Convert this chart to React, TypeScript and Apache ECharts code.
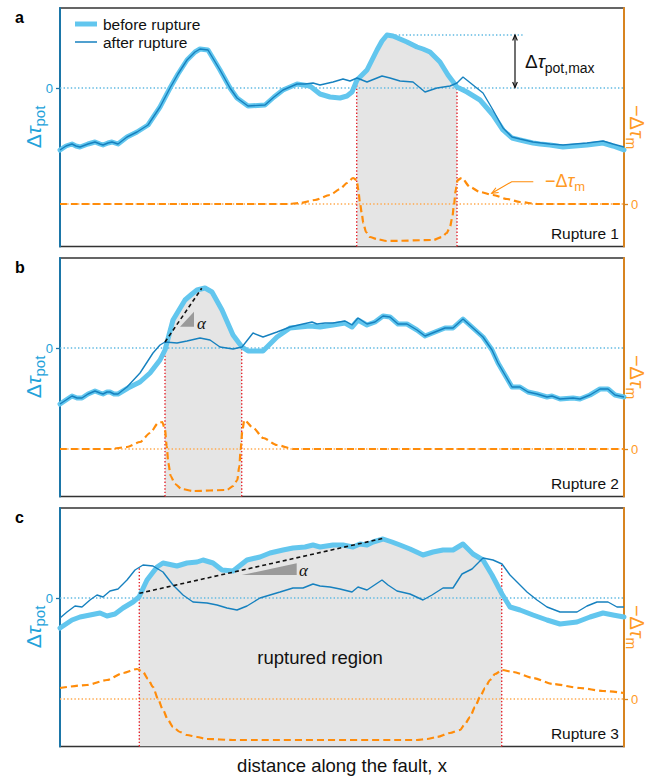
import React, { useEffect, useRef } from 'react';
import * as echarts from 'echarts';

type P = [number, number];

// x: distance along the fault (arbitrary units); y: stress (arbitrary units, 0 = reference)
const beforeA: P[] = [[0,-62],[6,-58],[12,-56],[16,-58],[20,-59],[28,-56],[35,-54],[40,-56],[43,-57],[48,-55],[52,-54],[58,-56],[67,-49],[77,-44],[88,-37],[100,-19],[110,0],[118,14],[127,28],[135,36],[140,39],[148,38],[160,18],[170,0],[177,-10],[188,-18],[205,-17],[214,-9],[223,-2],[237,4],[250,2],[260,-6],[270,-9],[280,-10],[287,-8],[292,-4],[297,8],[307,18],[317,38],[322,47],[327,53],[333,52],[340,49],[347,46],[357,41],[363,39],[370,36],[380,26],[388,13],[397,1],[407,-4],[420,-12],[433,-27],[443,-42],[452,-50],[460,-52],[473,-55],[480,-56],[490,-57],[503,-59],[515,-58],[527,-57],[543,-55],[553,-58],[564,-62]];
const afterA: P[] = [[0,-62],[6,-58],[12,-56],[16,-58],[20,-59],[28,-56],[35,-54],[40,-56],[43,-57],[48,-55],[52,-54],[58,-56],[67,-49],[77,-44],[88,-37],[100,-19],[110,0],[118,14],[127,28],[135,36],[140,39],[148,38],[160,18],[170,0],[177,-10],[188,-18],[205,-17],[214,-9],[223,-2],[237,4],[245,4],[253,5],[260,3],[273,6],[283,9],[290,7],[297,10],[307,6],[322,12],[330,10],[340,7],[353,6],[365,-4],[377,0],[390,2],[397,5],[403,11],[413,3],[423,-5],[433,-22],[443,-40],[452,-49],[460,-51],[473,-54],[490,-56],[503,-57],[515,-56],[527,-55],[543,-53],[553,-56],[564,-59]];
const drivingA: P[] = [[0,0],[227,0],[240,1],[255,4],[270,9],[280,15],[287,21],[293,26],[296.7,24],[298.3,14],[300,1],[301.7,-9],[303.3,-19],[306,-28],[310,-33],[316.7,-35],[326.7,-37],[373.3,-36],[381.7,-33],[386.7,-29],[390,-23],[392.3,-13],[394,-1],[395.7,14],[397.7,24],[401.7,26],[410,17],[420,12],[433,9],[447,5],[460,2],[477,0],[564,0]];

const beforeB: P[] = [[0,-56],[6,-52],[12,-48],[17,-50],[22,-50],[28,-46],[35,-43],[40,-45],[43,-46],[47,-44],[50,-44],[54,-46],[58,-46],[68,-40],[80,-34],[90,-25],[100,-12],[105,-2],[113,28],[125,48],[132,54],[137,58],[145,60],[152,56],[162,38],[173,13],[182,1],[188,-3],[203,-3],[210,4],[217,11],[230,20],[250,22],[260,21],[273,23],[285,25],[292,21],[298,28],[307,23],[315,26],[323,32],[330,31],[338,24],[347,24],[357,18],[365,12],[375,16],[385,20],[393,20],[403,29],[413,20],[423,11],[432,-2],[438,-15],[445,-27],[452,-39],[460,-39],[468,-44],[477,-46],[487,-49],[492,-48],[500,-51],[513,-50],[520,-51],[530,-47],[540,-41],[548,-41],[555,-47],[564,-49]];
const afterB: P[] = [[0,-56],[6,-52],[12,-48],[17,-50],[22,-50],[28,-46],[35,-43],[40,-45],[43,-46],[47,-44],[50,-44],[54,-46],[58,-46],[67,-39],[80,-25],[93,-5],[100,3],[105,6],[117,5],[127,7],[140,10],[150,8],[160,1],[173,-1],[182,1],[193,15],[203,11],[217,16],[230,21],[243,24],[252,26],[257,24],[265,25],[273,25],[285,27],[292,23],[298,30],[307,24],[315,26],[323,32],[330,31],[338,24],[347,24],[357,18],[365,12],[375,16],[385,20],[393,20],[403,29],[413,20],[423,11],[432,-2],[438,-15],[445,-27],[452,-39],[460,-39],[468,-44],[477,-46],[487,-49],[492,-48],[500,-51],[513,-50],[520,-51],[530,-47],[540,-41],[548,-41],[555,-47],[564,-49]];
const drivingB: P[] = [[0,0],[50,0],[67,2],[80,7],[90,16],[98.3,26],[102.3,27],[105,19],[106.7,3],[108.3,-14],[110.7,-27],[115,-35],[121.7,-40],[133,-42],[166.7,-41],[173.3,-37],[177.3,-31],[179.3,-17],[180.7,0],[182.3,18],[184.3,29],[193.3,21],[203.3,11],[216.7,4],[233.3,0],[564,0]];

const beforeC: P[] = [[0,-30],[12,-22],[20,-19],[30,-17],[40,-15],[47,-18],[55,-16],[63,-10],[73,-4],[79,1],[87,18],[97,31],[103,35],[117,32],[127,35],[137,36],[143,38],[153,35],[162,28],[173,27],[187,38],[200,41],[210,45],[223,48],[233,50],[245,51],[253,53],[260,51],[273,53],[283,53],[293,51],[300,54],[307,53],[313,56],[323,59],[332,56],[340,53],[350,49],[363,43],[373,46],[383,48],[393,48],[403,54],[413,44],[423,38],[432,23],[442,4],[450,-9],[460,-12],[473,-17],[487,-22],[500,-26],[517,-24],[530,-19],[543,-15],[553,-17],[564,-19]];
const afterC: P[] = [[0,-20],[7,-14],[15,-8],[22,-9],[30,-2],[37,3],[43,1],[50,7],[58,9],[67,18],[75,28],[83,33],[93,32],[103,26],[113,13],[123,3],[133,-4],[147,-5],[157,-7],[167,-10],[177,-12],[187,-8],[200,0],[210,3],[220,6],[233,10],[243,10],[253,14],[260,12],[270,11],[280,9],[292,6],[298,11],[307,8],[322,18],[328,13],[337,7],[350,4],[363,-2],[372,3],[383,10],[393,10],[402,24],[412,29],[423,40],[433,38],[442,34],[450,23],[457,16],[467,6],[477,-2],[487,-9],[500,-14],[517,-14],[527,-8],[537,-4],[548,-4],[557,-9],[564,-9]];
const drivingC: P[] = [[0,11],[27,14],[47,19],[63,26],[77,30],[83,27],[88,20],[93,12],[98,0],[103,-11],[108,-21],[113,-28],[120,-33],[127,-36],[137,-38],[147,-40],[173,-41],[357,-41],[367,-40],[377,-38],[390,-34],[400,-31],[405,-25],[410,-18],[415,-8],[420,2],[425,11],[430,19],[435,25],[442,29],[453,27],[473,21],[493,15],[520,11],[543,8],[564,6]];

// ruptured intervals [start, end]
const ruptureA: P = [296.7, 397];
const ruptureB: P = [105, 181.7];
const ruptureC: P = [79.3, 441.7];

// slope lines (alpha) and peak reference
const slopeB: P[] = [[105, 6], [141.7, 59.7]];
const slopeC: P[] = [[79.3, 4.7], [323.3, 59.7]];
const peakLineA: P[] = [[328, 53], [464, 53]];

const ruptureLabels = ['Rupture 1', 'Rupture 2', 'Rupture 3'];
const panelLetters = ['a', 'b', 'c'];

const FONT = '"Liberation Sans", Arial, Helvetica, sans-serif';
const BEFORE = '#62c6ee';
const AFTER = '#1681bf';
const LEFT_AXIS = '#1b76a8';
const BLUE_TXT = '#22a2da';
const ZERO_BLUE = '#5fb9e2';
const ORANGE = '#ff8c0a';
const ORANGE_ZERO = '#ffa94d';
const RIGHT_AXIS = '#d88420';
const ORANGE_TXT = '#ff9a26';
const RED = '#e6262e';
const FILL = '#e5e5e5';
const TRI = '#9a9a9a';

const X_MAX = 564;
const GRID_TOPS = [8, 258, 508];
const GRID_H = 238.5;
const BLUE_RANGE = [[-158.5, 80], [-148.5, 90], [-148.5, 90]];
const ORANGE_RANGE = [[-42.5, 196], [-47.5, 191], [-47.5, 191]];

function interp(arr: P[], x: number): number {
  for (let i = 0; i < arr.length - 1; i++) {
    const [x0, y0] = arr[i];
    const [x1, y1] = arr[i + 1];
    if (x >= x0 && x <= x1) return x1 === x0 ? y0 : y0 + ((y1 - y0) * (x - x0)) / (x1 - x0);
  }
  return arr[arr.length - 1][1];
}

function fillData(before: P[], r: P): P[] {
  const out: P[] = [[r[0], interp(before, r[0])]];
  before.forEach((p) => {
    if (p[0] > r[0] && p[0] < r[1]) out.push(p);
  });
  out.push([r[1], interp(before, r[1])]);
  return out;
}

function richMath(color: string, big: number, small: number) {
  return {
    a: { fontSize: big, fontFamily: FONT, color, fill: color, lineHeight: big + 2, verticalAlign: 'top' },
    b: { fontSize: big, fontFamily: FONT, fontStyle: 'italic', color, fill: color, lineHeight: big + 2, verticalAlign: 'top' },
    c: { fontSize: small, fontFamily: FONT, color, fill: color, lineHeight: small, padding: [Math.round(big * 0.45), 0, 0, 0], verticalAlign: 'top' },
  };
}

function head(tip: number[], from: number[], len = 7, ang = 0.42): number[][] {
  const dx = tip[0] - from[0];
  const dy = tip[1] - from[1];
  const n = Math.hypot(dx, dy) || 1;
  const ux = dx / n;
  const uy = dy / n;
  const rot = (a: number) => [ux * Math.cos(a) - uy * Math.sin(a), ux * Math.sin(a) + uy * Math.cos(a)];
  const r1 = rot(ang);
  const r2 = rot(-ang);
  return [
    [tip[0] - len * r1[0], tip[1] - len * r1[1]],
    [tip[0], tip[1]],
    [tip[0] - len * r2[0], tip[1] - len * r2[1]],
  ];
}

function buildOption() {
  const panels = [
    { before: beforeA, after: afterA, drive: drivingA, rup: ruptureA },
    { before: beforeB, after: afterB, drive: drivingB, rup: ruptureB },
    { before: beforeC, after: afterC, drive: drivingC, rup: ruptureC },
  ];
  const grid: any[] = [];
  const xAxis: any[] = [];
  const yAxis: any[] = [];
  const series: any[] = [];

  panels.forEach((pn, i) => {
    grid.push({
      left: 60, right: 23, top: GRID_TOPS[i], height: GRID_H,
      show: true, borderColor: '#333', borderWidth: 1.5, backgroundColor: 'transparent',
      outerBoundsMode: 'none',
    });
    xAxis.push({
      type: 'value', gridIndex: i, min: 0, max: X_MAX,
      axisLine: { show: false, onZero: false }, axisTick: { show: false }, axisLabel: { show: false }, splitLine: { show: false },
      ...(i === 2
        ? { name: 'distance along the fault, x', nameLocation: 'middle', nameGap: 9,
            nameTextStyle: { fontSize: 18.5, fontFamily: FONT, color: '#111', verticalAlign: 'top' } }
        : {}),
    });
    yAxis.push({
      type: 'value', gridIndex: i, position: 'left', min: BLUE_RANGE[i][0], max: BLUE_RANGE[i][1],
      axisLine: { show: true, onZero: false, lineStyle: { color: LEFT_AXIS, width: 2 } },
      axisTick: { show: true, customValues: [0], length: 4, lineStyle: { color: LEFT_AXIS, width: 1.3 } },
      axisLabel: { show: true, customValues: [0], margin: 7, color: BLUE_TXT, fontSize: 13, fontFamily: FONT },
      splitLine: { show: false },
    });
    yAxis.push({
      type: 'value', gridIndex: i, position: 'right', min: ORANGE_RANGE[i][0], max: ORANGE_RANGE[i][1],
      axisLine: { show: true, onZero: false, lineStyle: { color: RIGHT_AXIS, width: 2 } },
      axisTick: { show: true, customValues: [0], length: 4, lineStyle: { color: RIGHT_AXIS, width: 1.3 } },
      axisLabel: { show: true, customValues: [0], margin: 7, color: ORANGE_TXT, fontSize: 13, fontFamily: FONT },
      splitLine: { show: false },
    });

    const yl = 2 * i;
    const yr = 2 * i + 1;
    const base = { type: 'line', xAxisIndex: i, showSymbol: false, symbol: 'none', silent: true, animation: false };

    series.push({ ...base, yAxisIndex: yl, data: fillData(pn.before, pn.rup), lineStyle: { width: 0 },
      areaStyle: { color: FILL, opacity: 1, origin: 'start' } });
    series.push({ ...base, yAxisIndex: yl, data: [[0, 0], [X_MAX, 0]], lineStyle: { color: ZERO_BLUE, width: 1.3, type: [1.4, 2.2] } });
    series.push({ ...base, yAxisIndex: yr, data: [[0, 0], [X_MAX, 0]], lineStyle: { color: ORANGE_ZERO, width: 1.3, type: [1.4, 2.2] } });
    pn.rup.forEach((xr) => {
      const top = Math.max(interp(pn.before, xr), interp(pn.after, xr));
      series.push({ ...base, yAxisIndex: yl, data: [[xr, BLUE_RANGE[i][0]], [xr, top]],
        lineStyle: { color: RED, width: 1.4, type: [1.4, 2] } });
    });
    if (i === 0) {
      series.push({ ...base, yAxisIndex: yl, data: peakLineA, lineStyle: { color: ZERO_BLUE, width: 1.3, type: [1.4, 2.2] } });
    }
    series.push({ ...base, name: '−Δτm', yAxisIndex: yr, data: pn.drive, smooth: 0.25, smoothMonotone: 'x',
      lineStyle: { color: ORANGE, width: 2.2, type: [7, 4] } });
    series.push({ ...base, name: 'before rupture', yAxisIndex: yl, data: pn.before, lineStyle: { color: BEFORE, width: 5, cap: 'round', join: 'round' } });
    series.push({ ...base, name: 'after rupture', yAxisIndex: yl, data: pn.after, lineStyle: { color: AFTER, width: 1.4 } });
    if (i === 1) series.push({ ...base, yAxisIndex: yl, data: slopeB, lineStyle: { color: '#111', width: 1.6, type: [4, 3] } });
    if (i === 2) series.push({ ...base, yAxisIndex: yl, data: slopeC, lineStyle: { color: '#111', width: 1.6, type: [4, 3] } });
  });

  // panel a: Δτpot,max double arrow
  series.push({
    type: 'custom', xAxisIndex: 0, yAxisIndex: 0, silent: true, z: 10, data: [[0, 0]],
    renderItem: (_p: any, api: any) => {
      const t = api.coord([455, 53]);
      const b = api.coord([455, 0.5]);
      const lab = api.coord([465, 26]);
      return {
        type: 'group',
        children: [
          { type: 'line', shape: { x1: t[0], y1: t[1], x2: b[0], y2: b[1] }, style: { stroke: '#111', lineWidth: 1.2 } },
          { type: 'polyline', shape: { points: head(t, b, 6, 0.4) }, style: { stroke: '#111', lineWidth: 1.2, fill: null } },
          { type: 'polyline', shape: { points: head(b, t, 6, 0.4) }, style: { stroke: '#111', lineWidth: 1.2, fill: null } },
          { type: 'text', style: { text: '{a|Δ}{b|τ}{c|pot,max}', x: lab[0], y: lab[1], align: 'left', verticalAlign: 'middle',
            rich: richMath('#111', 19, 14) } },
        ],
      };
    },
  });
  // panel a: −Δτm pointer
  series.push({
    type: 'custom', xAxisIndex: 0, yAxisIndex: 1, silent: true, z: 10, data: [[0, 0]],
    renderItem: (_p: any, api: any) => {
      const p0 = api.coord([473.3, 22.3]);
      const p1 = api.coord([451.7, 22.3]);
      const tip = api.coord([431.7, 10.7]);
      const lab = api.coord([485, 22.3]);
      return {
        type: 'group',
        children: [
          { type: 'polyline', shape: { points: [p0, p1, tip] }, style: { stroke: ORANGE, lineWidth: 1.1, fill: null } },
          { type: 'polyline', shape: { points: head(tip, p1, 7, 0.4) }, style: { stroke: ORANGE, lineWidth: 1.1, fill: null } },
          { type: 'text', style: { text: '{a|−Δ}{b|τ}{c|m}', x: lab[0], y: lab[1], align: 'left', verticalAlign: 'middle',
            rich: richMath(ORANGE_TXT, 18, 13) } },
        ],
      };
    },
  });
  // alpha triangles
  const triSpecs = [
    { grid: 1, pts: [[120, 21.3], [134, 21.3], [134, 36.3]], label: [137, 25] },
    { grid: 2, pts: [[181.7, 23], [236.7, 34.7], [236.7, 23]], label: [239, 28] },
  ];
  triSpecs.forEach((s) => {
    series.push({
      type: 'custom', xAxisIndex: s.grid, yAxisIndex: 2 * s.grid, silent: true, z: 10, data: [[0, 0]],
      renderItem: (_p: any, api: any) => {
        const pts = s.pts.map((q) => api.coord(q));
        const lab = api.coord(s.label);
        return {
          type: 'group',
          children: [
            { type: 'polygon', shape: { points: pts }, style: { fill: TRI } },
            { type: 'text', style: { text: 'α', x: lab[0], y: lab[1], align: 'left', verticalAlign: 'middle',
              font: 'italic 17px "Liberation Serif", "DejaVu Serif", serif', fill: '#111' } },
          ],
        };
      },
    });
  });

  const graphic: any[] = [];
  panelLetters.forEach((l, i) => {
    const mid = GRID_TOPS[i] + 119;
    graphic.push({ type: 'text', x: 15, y: GRID_TOPS[i] + 9.5, z: 100,
      style: { text: l, font: `bold 16px ${FONT}`, fill: '#000', align: 'left', verticalAlign: 'middle' } });
    graphic.push({ type: 'text', x: 619, y: GRID_TOPS[i] + 225, z: 100,
      style: { text: ruptureLabels[i], font: `15.5px ${FONT}`, fill: '#111', align: 'right', verticalAlign: 'middle' } });
    graphic.push({ type: 'text', x: 34, y: mid, rotation: Math.PI / 2, z: 100,
      style: { text: '{a|Δ}{b|τ}{c|pot}', align: 'center', verticalAlign: 'middle', rich: richMath(BLUE_TXT, 21, 15) } });
    graphic.push({ type: 'text', x: 636, y: mid, rotation: -Math.PI / 2, z: 100,
      style: { text: '{a|−Δ}{b|τ}{c|m}', align: 'center', verticalAlign: 'middle', rich: richMath(ORANGE_TXT, 20, 14) } });
  });
  graphic.push({ type: 'line', z: 100, shape: { x1: 75, y1: 24, x2: 97, y2: 24 }, style: { stroke: BEFORE, lineWidth: 5 } });
  graphic.push({ type: 'text', z: 100, x: 103, y: 24, style: { text: 'before rupture', font: `15.5px ${FONT}`, fill: '#111', align: 'left', verticalAlign: 'middle' } });
  graphic.push({ type: 'line', z: 100, shape: { x1: 75, y1: 42, x2: 97, y2: 42 }, style: { stroke: AFTER, lineWidth: 1.5 } });
  graphic.push({ type: 'text', z: 100, x: 103, y: 42, style: { text: 'after rupture', font: `15.5px ${FONT}`, fill: '#111', align: 'left', verticalAlign: 'middle' } });
  graphic.push({ type: 'text', z: 100, x: 320, y: 657, style: { text: 'ruptured region', font: `18.5px ${FONT}`, fill: '#111', align: 'center', verticalAlign: 'middle' } });

  return { animation: false, backgroundColor: '#fff', grid, xAxis, yAxis, series, graphic };
}

export default function App() {
  const ref = useRef<HTMLDivElement>(null);
  useEffect(() => {
    document.body.style.margin = '0';
    const chart = echarts.init(ref.current!, null, { renderer: 'svg' });
    chart.setOption(buildOption() as any);
    return () => chart.dispose();
  }, []);
  return <div ref={ref} style={{ width: 647, height: 776 }} />;
}
